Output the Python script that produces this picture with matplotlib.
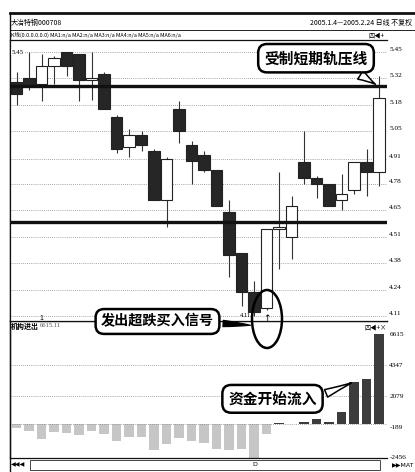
import matplotlib.pyplot as plt
from matplotlib.patches import Ellipse, Rectangle
from matplotlib.lines import Line2D

plt.rcParams["font.family"] = ["Noto Sans CJK SC", "DejaVu Sans"]

W, H = 415, 472

# --- daily candles, 2005.1.4 - 2005.2.24 ---
opens = [5.30, 5.32, 5.29, 5.38, 5.45, 5.44, 5.31, 5.34, 5.12, 4.97,
         5.03, 4.95, 4.70, 5.16, 4.98, 4.93, 4.85, 4.64, 4.43, 4.23,
         4.15, 4.55, 4.51, 4.89, 4.81, 4.78, 4.70, 4.75, 4.89, 4.84]
highs = [5.35, 5.45, 5.44, 5.43, 5.45, 5.44, 5.45, 5.35, 5.13, 5.06,
         5.05, 4.96, 4.92, 5.20, 5.00, 4.95, 4.85, 4.70, 4.43, 4.29,
         4.55, 4.84, 4.72, 5.05, 4.82, 4.78, 4.83, 4.89, 4.96, 5.33]
lows = [5.18, 5.26, 5.20, 5.29, 5.33, 5.20, 5.21, 5.16, 4.94, 4.92,
        4.95, 4.70, 4.56, 4.99, 4.78, 4.84, 4.67, 4.31, 4.16, 4.11,
        4.14, 4.35, 4.40, 4.78, 4.71, 4.67, 4.65, 4.73, 4.72, 4.77]
closes = [5.24, 5.28, 5.38, 5.42, 5.38, 5.31, 5.32, 5.16, 4.96, 5.03,
          4.98, 4.70, 4.91, 5.05, 4.90, 4.85, 4.67, 4.42, 4.23, 4.13,
          4.55, 4.56, 4.67, 4.81, 4.78, 4.67, 4.73, 4.89, 4.84, 5.22]

# --- 机构进出 (fund flow) ---
flow = [-293, -488, -1098, -561, -610, -780, -488, -732, -1220, -902,
        -927, -1902, -1463, -976, -1220, -1341, -1829, -1902, -1829, -2456,
        -732, 73, 49, 195, 366, 195, 902, 3122, 3366, 6615]

price_ticks = [4.11, 4.24, 4.38, 4.51, 4.65, 4.78, 4.91, 5.05, 5.18, 5.32, 5.45]
flow_ticks = [-2456, -189, 2079, 4347, 6615]
resist_line = 5.28
support_line = 4.59


def fx(px):
    return px / W


def fy(py):
    return 1 - py / H


def rect(l, t, r, b):
    return [fx(l), fy(b), fx(r) - fx(l), fy(t) - fy(b)]


fig = plt.figure(figsize=(W / 100, H / 100), dpi=100)
fig.patch.set_facecolor("white")

ax = fig.add_axes(rect(10, 40, 387, 321))
axv = fig.add_axes(rect(10, 321, 387, 458))
ax.set_zorder(3)
axv.set_zorder(1)

n = len(opens)
xs = list(range(n))
DARK = "#262626"
NUMFONT = ["Liberation Serif", "DejaVu Serif"]

# --- candles ---
for i in xs:
    o, h, l, c = opens[i], highs[i], lows[i], closes[i]
    up = c >= o
    ax.vlines(i, l, h, color="#333333", lw=0.8, zorder=2)
    ax.bar(i, max(abs(c - o), 0.006), bottom=min(o, c), width=0.9,
           color="white" if up else DARK, edgecolor="#222222", lw=0.8, zorder=3)

ax.axhline(resist_line, color="#111111", lw=2.4, zorder=4)
ax.axhline(support_line, color="#111111", lw=2.4, zorder=4)

ax.set_xlim(-0.52, 29.64)
ax.set_ylim(4.0845, 5.5125)
ax.set_xticks([])
ax.set_yticks(price_ticks)
ax.set_yticklabels([])
ax.tick_params(axis="y", length=0)
ax.grid(axis="y", color="#8a8a8a", lw=0.6, ls=(0, (1, 1.5)), zorder=0)
ax.spines["right"].set_visible(False)
for side in ["left", "top", "bottom"]:
    ax.spines[side].set_linewidth(0.9)
    ax.spines[side].set_color("#111111")

ytr = ax.get_yaxis_transform()
for t in price_ticks:
    ax.text(1.006, t, f"{t:.2f}", transform=ytr, va="bottom", ha="left",
            fontsize=5.2, family=NUMFONT, clip_on=False)
ax.text(0.004, 5.45, "5.45", transform=ytr, va="center", ha="left", fontsize=5,
        family=NUMFONT, bbox=dict(fc="white", ec="none", pad=0.3), zorder=5)

# small marks near the low
ax.text(18.75, 4.11, "4.11", ha="right", va="center", fontsize=4.6,
        family=NUMFONT, zorder=5)
ax.text(20, 4.098, "↑", ha="center", va="center", fontsize=6.5,
        family=["DejaVu Sans"], zorder=5)
ax.text(2, 4.098, "1", ha="center", va="center", fontsize=5, zorder=5)

# --- callouts on price panel ---
ax.annotate("受制短期轨压线", xy=(28.9, resist_line), xytext=(23.96, 5.42),
            ha="center", va="center", fontsize=10.6, fontweight="bold",
            bbox=dict(boxstyle="round,pad=0.42,rounding_size=0.6", fc="white",
                      ec="black", lw=1.8),
            arrowprops=dict(arrowstyle="wedge,tail_width=0.7,shrink_factor=0.4",
                            fc="white", ec="black", lw=1.1,
                            relpos=(0.8, 0.0)),
            zorder=6)

ax.annotate("发出超跌买入信号", xy=(18.95, 4.062), xytext=(11.28, 4.082),
            ha="center", va="center", fontsize=10.2, fontweight="bold",
            bbox=dict(boxstyle="round,pad=0.38,rounding_size=0.6", fc="white",
                      ec="black", lw=1.8),
            arrowprops=dict(arrowstyle="wedge,tail_width=0.45,shrink_factor=0.6",
                            fc="black", ec="black", lw=0.8,
                            relpos=(1.0, 0.4)),
            annotation_clip=False, zorder=6)

circ = Ellipse((fx(267), fy(319)), 30 / W, 58 / H, transform=fig.transFigure,
               fill=False, ec="black", lw=1.8, zorder=10)
fig.add_artist(circ)

# --- fund flow panel ---
bar_cols = ["#c6c6c6" if v < 0 else "#3c3c3c" for v in flow]
axv.bar(xs, flow, width=0.76, color=bar_cols, zorder=2)
axv.set_xlim(-0.52, 29.64)
axv.set_ylim(-2460, 7590)
axv.set_xticks([])
axv.set_yticks(flow_ticks)
axv.set_yticklabels([])
axv.tick_params(axis="y", length=0)
for v in flow_ticks[2:4]:
    axv.axhline(v, color="#8a8a8a", lw=0.6, ls=(0, (1, 1.5)), zorder=1)
axv.axhline(0, color="#8a8a8a", lw=0.6, ls=(0, (1, 1.5)), zorder=3)
axv.spines["right"].set_visible(False)
for side in ["left", "top", "bottom"]:
    axv.spines[side].set_linewidth(0.9)
    axv.spines[side].set_color("#111111")
vtr = axv.get_yaxis_transform()
for v in flow_ticks:
    axv.text(1.006, v, f"{v}", transform=vtr, va="center", ha="left",
             fontsize=5.2, family=NUMFONT, clip_on=False)

axv.text(0.003, 0.985, "机构进出", transform=axv.transAxes, ha="left", va="top",
         fontsize=5, fontweight="bold")
axv.text(0.078, 0.985, "6615.11", transform=axv.transAxes, ha="left", va="top",
         fontsize=4.8, color="#555555", family=NUMFONT)
axv.text(0.998, 0.985, "四◀+×", transform=axv.transAxes, ha="right", va="top",
         fontsize=4.5)

axv.annotate("资金开始流入", xy=(27, flow[27]), xytext=(20.48, 1880),
             ha="center", va="center", fontsize=10.6, fontweight="bold",
             bbox=dict(boxstyle="round,pad=0.4,rounding_size=0.6", fc="white",
                       ec="black", lw=1.8),
             arrowprops=dict(arrowstyle="wedge,tail_width=0.55,shrink_factor=0.45",
                             fc="white", ec="black", lw=1.1,
                             relpos=(1.0, 0.6)),
             zorder=6)

# --- header rows ---
fig.add_artist(Line2D([fx(10), 1], [fy(13), fy(13)], color="#111111", lw=2.0))
fig.add_artist(Line2D([fx(10), 1], [fy(30), fy(30)], color="#222222", lw=0.7))
fig.add_artist(Line2D([fx(10), fx(10)], [fy(13), 0], color="#111111", lw=1.0))

fig.text(fx(11), fy(22.5), "大冶特钢000708", ha="left", va="center", fontsize=5)
fig.text(fx(412), fy(22.5), "2005.1.4—2005.2.24 日线 不复权", ha="right",
         va="center", fontsize=5)
fig.text(fx(11), fy(35), "K线(0.0.0.0.0.0) MA1:n/a MA2:n/a MA3:n/a MA4:n/a MA5:n/a MA6:n/a",
         ha="left", va="center", fontsize=3.9)
fig.text(fx(384), fy(35), "四◀+", ha="right", va="center", fontsize=4.5)

# --- bottom scroll bar ---
fig.add_artist(Rectangle((fx(30), fy(470)), fx(380) - fx(30), fy(460) - fy(470),
                         transform=fig.transFigure, fill=False, ec="#444444", lw=0.7))
fig.text(fx(11), fy(465), "◀◀◀", ha="left", va="center", fontsize=4.5,
         family=["DejaVu Sans"])
fig.text(fx(414), fy(465), "▶▶MAT", ha="right", va="center", fontsize=4.5,
         family=["DejaVu Sans"])
fig.text(fx(255), fy(465), "D", ha="center", va="center", fontsize=4.5,
         family=["DejaVu Sans"])

fig.savefig("out.png", dpi=100, facecolor="white")
